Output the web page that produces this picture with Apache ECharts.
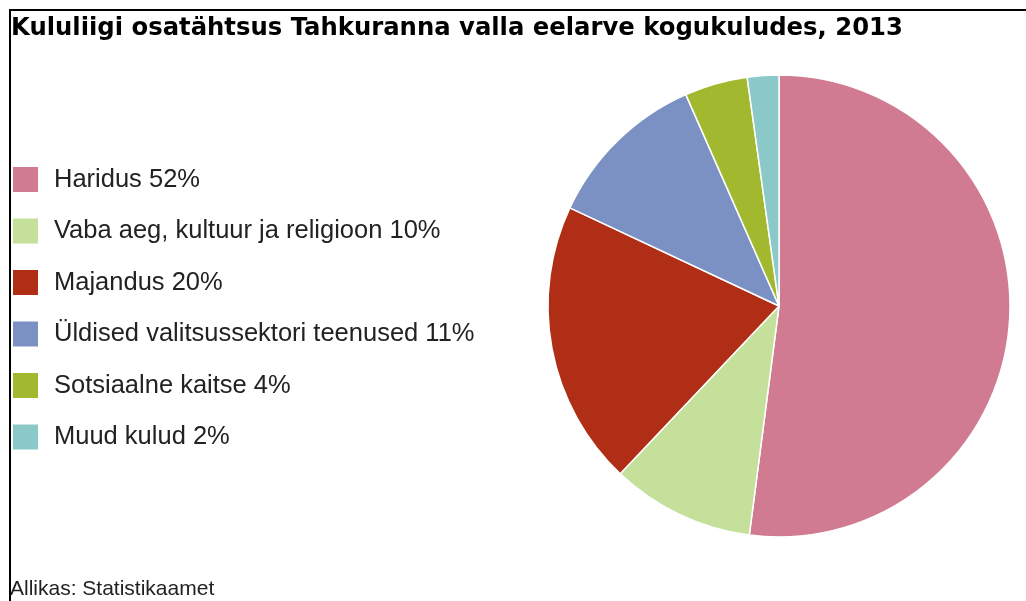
<!DOCTYPE html>
<html>
<head>
<meta charset="utf-8">
<script src="https://cdn.jsdelivr.net/npm/echarts@6/dist/echarts.min.js"></script>
<style>
  html, body { margin: 0; padding: 0; background: #fff; }
  #chart { width: 1026px; height: 601px; }
</style>
</head>
<body>
<div id="chart"></div>
<script>
const categories = [
  'Haridus',
  'Vaba aeg, kultuur ja religioon',
  'Majandus',
  'Üldised valitsussektori teenused',
  'Sotsiaalne kaitse',
  'Muud kulud'
]
const shares = [52.0, 10.0, 19.9, 11.4, 4.4, 2.2]
const colors = ['#d07b91', '#c5e09a', '#b02e16', '#7b91c3', '#a2b82e', '#8bc9c9']

const ec = echarts.init(document.getElementById('chart'))
ec.setOption({
  animation: false,
  title: {
    text: 'Kululiigi osatähtsus Tahkuranna valla eelarve kogukuludes, 2013',
    left: 11,
    top: 17,
    padding: 0,
    textStyle: {fontFamily: 'DejaVu Sans', fontWeight: 'bold', fontSize: 24.3, color: '#000'}
  },
  legend: {
    orient: 'vertical',
    left: 11,
    top: 165,
    padding: 0,
    itemWidth: 27,
    itemHeight: 27,
    itemGap: 22.5,
    icon: 'rect',
    selectedMode: false,
    data: categories,
    formatter: name => name + ' ' + Math.round(shares[categories.indexOf(name)]) + '%',
    textStyle: {
      fontFamily: 'Liberation Sans',
      fontSize: 25.5,
      lineHeight: 27,
      color: '#222',
      padding: [0, 0, 0, 10]
    }
  },
  graphic: [
    {
      type: 'polyline',
      shape: {points: [[10, 601], [10, 10], [1026, 10]]},
      style: {stroke: '#000', lineWidth: 2, fill: null}
    },
    {
      type: 'text',
      left: 10,
      top: 579,
      style: {text: 'Allikas: Statistikaamet', font: '21px "Liberation Sans"', fill: '#222'}
    }
  ],
  series: [
    {
      type: 'pie',
      center: [779, 306],
      radius: 231,
      startAngle: 90,
      clockwise: true,
      label: {show: false},
      labelLine: {show: false},
      itemStyle: {borderColor: '#fff', borderWidth: 1.5},
      emphasis: {disabled: true},
      data: categories.map((c, i) => ({name: c, value: shares[i], itemStyle: {color: colors[i]}}))
    }
  ]
})
</script>
</body>
</html>
